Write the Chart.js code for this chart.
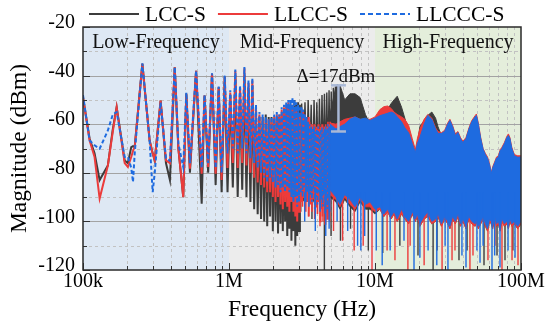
<!DOCTYPE html>
<html><head><meta charset="utf-8">
<script src="https://cdn.jsdelivr.net/npm/chart.js@4.4.1/dist/chart.umd.min.js"></script>
<style>html,body{margin:0;padding:0;background:#fff}#wrap{width:546px;height:328px}</style>
</head><body><div id="wrap"><canvas id="c" width="546" height="328"></canvas></div>
<script>
// ================= DATA =================
const seriesNames = ['LCC-S', 'LLCC-S', 'LLCCC-S'];
const regionNames = ['Low-Frequency', 'Mid-Frequency', 'High-Frequency'];
const regionEdgesHz = [1e5, 1e6, 1e7, 1e8];
const xTickValuesHz = [1e5, 1e6, 1e7, 1e8];
const xTickLabels = ['100k', '1M', '10M', '100M'];
const yTickValues = [-20, -40, -60, -80, -100, -120];
const yTickLabels = ['-20', '-40', '-60', '-80', '-100', '-120'];
const yMinorValues = [-30, -50, -70, -90, -110];
const xMinorMultipliers = [2, 3, 4, 5, 6, 7, 8, 9];
const xMinorDecadesHz = [1e5, 1e6, 1e7];

// harmonic comb region, 100 kHz .. 3.06 MHz (kHz)
const combFreqKHz = [100,111,120,130,148,160,170,193,203,214,220,226,255,286,300,310,340,370,394,425,450,486,510,540,595,650,680,720,765,810,850,890,935,
  977,1020,1062,1105,1147,1190,1232,1275,1317,1360,1402,1445,1487,1530,1572,1615,1657,1700,1742,1785,1827,1870,1912,1955,1997,2040,2082,2125,2167,2210,2252,2295,2337,2380,2422,2465,2507,2550,2592,2635,2677,2720,2762,2805,2847,2890,2932,2975,3017,3060];
const combLCC = [-49,-66,-72,-83,-77,-62,-53,-75,-76,-69.4,-69,-69.4,-35.2,-66.7,-72,-74.9,-50.3,-76,-83,-36.6,-70,-90,-47.5,-80,-38,-92.7,-48.2,-80,-39.3,-85,-44.8,-88,-40.5,
  -88,-48,-86,-40,-90,-47,-87,-40,-90,-45,-92,-44,-95,-55,-97,-57,-99,-57,-100,-56,-102,-57,-98,-57,-104,-58,-100,-57,-105,-57,-101,-56,-104,-57,-100,-56,-106,-54,-103,-52,-108,-53,-104,-50,-110,-52,-106,-51,-104,-52];
const combLLCC = [-49,-66.7,-73.5,-90.6,-77,-63,-53,-76,-77.6,-73.5,-71,-69.4,-35.2,-66.7,-72,-74.9,-50.3,-74.9,-76,-36.6,-70,-90,-47.5,-78.3,-38,-80.4,-48.2,-77.6,-39.3,-80.4,-44.8,-83,-40.5,
  -78,-47,-76,-38,-78,-45,-76,-37,-77,-43,-80,-42,-82,-53,-84,-56,-85,-57,-86,-58,-88,-58,-88,-58,-90,-57,-92,-56,-90,-56,-93,-54,-95,-53,-92,-52,-94,-51,-96,-52,-92,-52,-96,-53,-98,-54,-100,-55,-96,-56];
const combLLCCC = [-48,-66.7,-68.7,-70.1,-62.6,-56,-55,-73.5,-73.5,-78,-83.8,-72,-35,-66.7,-88,-80,-51,-74,-75,-36.5,-68,-77.6,-47,-76,-38,-78,-48,-76,-39,-78,-44.5,-80,-40,
  -72,-46,-70,-37.5,-72,-44,-70,-36.5,-72,-42,-74,-41,-76,-52,-78,-55,-80,-56,-82,-57,-84,-58,-82,-57,-84,-56,-86,-55,-85,-56,-88,-53,-86,-52,-88,-51,-86,-50,-88,-50,-90,-49,-92,-50,-90,-51,-94,-52,-92,-53];

// continued harmonic comb 3.1 .. 4.93 MHz (kHz) for LLCC-S / LLCCC-S
const comb3FreqKHz = [3102,3145,3187,3230,3272,3315,3357,3400,3442,3485,3527,3570,3612,3655,3697,3740,3782,3825,3867,3910,3952,3995,4037,4080,4122,4165,4207,4250,4292,4335,4377,4420,4462,4505,4547,4590,4632,4675,4717,4760,4802,4845,4887,4930];
const comb3LLCC = [-92,-54,-94,-55,-90,-56,-96,-58,-92,-57,-98,-59,-93,-60,-96,-61,-91,-60,-99,-62,-94,-61,-97,-60,-92,-62,-100,-61,-95,-60,-98,-62,-93,-61,-101,-60,-96,-61,-99,-59,-94,-60,-100,-59];
const comb3LLCCC = [-88,-53,-90,-54,-86,-56,-92,-57,-88,-59,-94,-60,-89,-61,-92,-62,-87,-61,-95,-63,-90,-62,-93,-61,-88,-63,-96,-62,-91,-61,-94,-63,-89,-62,-97,-61,-92,-62,-95,-60,-90,-61,-96,-60];

// LCC-S odd-harmonic comb, 3.1 .. 5.5 MHz (kHz)
const comb2FreqKHz = [3145,3230,3315,3400,3485,3570,3655,3740,3825,3910,3995,4080,4165,4250,4335,4420,4505,4590,4675,4760,4845,4930,5015,5100,5185,5270,5355,5440,5525];
const comb2LCC = [-51.5,-76,-51,-78,-50,-75,-52,-80,-50,-77,-51,-76,-49.5,-79,-48,-75,-47.5,-78,-47,-76,-46,-77,-46.5,-75,-45,-78,-44.5,-76,-43.5];

// dense band region, 3.06 .. 100 MHz (MHz): upper / lower envelopes (null = not dense yet)
const bandFreqMHz = [3.06,3.3,3.59,3.9,4.2,4.5,4.92,5.4,5.76,6.2,6.74,7.3,7.9,8.6,9.24,10,10.8,11.5,12.2,12.9,13.5,14.2,15.2,16,17,18,18.9,19.5,20.3,21.7,23,24.5,26,27,28.5,30,31.5,32.6,34,35.5,37,38.5,40,42,44,46,48.5,49.5,51,53,55,57,59,61,62.5,64,66,68,70,72,74,77,80,82,84,86.5,90,95,100];
const upperLCC = [-66,-66,-66,-66,-66,-66,-56,-44.5,-44,-50,-47.5,-47.5,-49,-56,-60,-62,-58,-56,-54,-51.5,-50,-48.5,-53,-57.5,-63,-69.5,-73.6,-68,-61,-58.5,-56.4,-55,-57.5,-61,-64.7,-66.7,-62,-60,-62,-64,-63.5,-66.5,-68,-67,-63,-60,-58,-57.5,-61,-67,-71,-73,-74.5,-77.5,-81,-79,-77,-75,-74.5,-72,-71,-69,-66.5,-65.5,-67,-71,-74,-74.5,-74.5];
const upperLLCC = [null,null,null,null,null,null,-59.5,-60,-59,-58,-57.5,-57,-58,-58,-58,-57,-54,-52.8,-52.5,-53.5,-55,-56,-57,-58,-60.5,-66,-70.5,-66,-62,-58,-56,-57.5,-61.5,-63,-63.5,-62.5,-59.5,-58,-60.5,-64,-63,-65.5,-67,-65.5,-61.5,-58.5,-56.5,-55.8,-59.5,-65.5,-70,-72,-73.5,-76.5,-80,-77.5,-75.5,-73.5,-73,-70.5,-69.5,-67.5,-65,-64,-65.5,-69.5,-72.5,-73,-73];
const upperLLCCC = [null,null,null,null,null,null,-60,-62,-61,-60,-58,-57,-58,-57.5,-58.5,-57.5,-56.5,-56,-55.5,-55,-55.5,-57,-59,-61.5,-63.5,-68,-71.6,-68,-65.5,-60,-56.4,-58,-62,-63.8,-63.8,-63,-60,-58.5,-61,-64.7,-63.4,-66,-67.5,-66,-62,-59,-57,-56.4,-60,-66,-70.3,-72.5,-74,-77,-80.3,-78,-76,-74,-73.6,-71,-70,-68,-65.5,-64.7,-66,-70,-73,-73.6,-73.5];
const lowerLLCCC = [null,null,null,null,null,null,-87,-90,-93,-89,-91,-94,-90,-93,-92,-95,
  -94,-97,-95,-98,-96,-99,-95,-98,-100,-96,-99,-97,-101,-98,-96,-100,-99,-97,-101,-98,-100,-102,-98,-100,-97,-101,-99,-102,-98,-100,-101,-99,-102,-100,-98,-101,-103,-99,-100,-102,-98,-101,-100,-103,-99,-101,-100,-102,-99,-101,-100,-102,-100];
const lowerLLCC = [null,null,null,null,null,null,-89,-91,-94,-90,-93,-95,-91,-94,-94,-96,
  -95,-98,-96,-99,-97,-100,-97,-99,-101,-97,-100,-98,-102,-99,-98,-101,-100,-98,-102,-99,-101,-103,-99,-101,-98,-102,-100,-103,-99,-101,-102,-100,-103,-101,-99,-102,-104,-100,-101,-103,-99,-102,-101,-104,-100,-102,-101,-103,-100,-102,-101,-103,-101];
const lowerLCC = [-90,-92,-89,-93,-91,-94,-90,-92,-95,-91,-94,-96,-92,-95,-95,-97,
  -95,-98,-96,-99,-97,-100,-97,-99,-101,-97,-100,-98,-102,-99,-98,-101,-100,-98,-102,-99,-101,-103,-99,-101,-98,-102,-100,-103,-99,-101,-102,-100,-103,-101,-99,-102,-104,-100,-101,-103,-99,-102,-101,-104,-100,-102,-101,-103,-100,-102,-101,-103,-101];

// downward spikes below the dense band (MHz, dBm)
const spikeTopDBm = -88;
const spikeFreqLCC = [3.1,3.7,4.5,5.0,5.8,6.8,9.0,11.3,14.8,19.7,25.0,26.6,37.6,42.7,55.8,68.5,77.7,88];
const spikeDepthLCC = [-96,-99,-120,-106,-108,-103,-112,-113,-110,-114,-120,-112,-116,-112,-118,-114,-116,-112];
const spikeFreqLLCC = [3.5,4.2,4.4,5.2,6.0,7.2,8.3,9.54,12.1,13.7,16.8,17.4,21.7,28.8,33.7,35.3,44.7,46.9,59.4,66.4,74.1,86.8,95.4];
const spikeDepthLLCC = [-98,-102,-100,-104,-108,-112,-110,-120,-112,-116,-120,-110,-118,-120,-116,-112,-120,-114,-116,-110,-120,-116,-118];
const spikeFreqLLCCC = [3.3,3.9,4.6,4.85,5.5,6.5,7.6,8.0,8.5,10.2,11.2,12.7,15.8,18.5,20.3,23.1,26.5,30.2,31.6,39.4,42,49.9,52.4,55,63.3,66,71.8,81.5,91.0];
const spikeDepthLLCCC = [-100,-104,-106,-103,-100,-104,-110,-112,-106,-112,-118,-112,-108,-120,-115,-112,-118,-110,-120,-114,-119,-112,-117,-110,-120,-114,-119,-112,-115];

// annotation
const annFreqHz = 5.62e6, annTopDBm = -44, annBottomDBm = -63;
const annText = 'Δ=17dBm', annTextFreqHz = 5.4e6, annTextDBm = -40.5;

// ================= STYLE =================
const FONT = "'Liberation Serif', 'Times New Roman', serif";
const COL = { LCC: '#3c3c3c', LLCC: '#ec3b3b', LLCCC: '#1e6be0' };
const regionColors = ['#dee8f4', '#ececec', '#e4eedb'];

const kHz = v => v * 1e3, MHz = v => v * 1e6;
function toPts(freqs, vals, conv) { return freqs.map((f, i) => ({ x: conv(f), y: vals[i] })); }
function toSpikes(freqs, depths) {
  const out = [];
  freqs.forEach((f, i) => { out.push({ x: MHz(f), y: spikeTopDBm }, { x: MHz(f), y: depths[i] }, { x: MHz(f), y: null }); });
  return out;
}

const datasets = [];
function addSeries(name, color, base, comb, comb3, upper, lower, spF, spD, dashed) {
  const dash = dashed ? [4, 2.5] : [];
  datasets.push({ label: name + ' band', data: toPts(bandFreqMHz, upper, MHz), borderColor: color, backgroundColor: color, borderWidth: 1, fill: '+1', spanGaps: false, order: base + 2 });
  datasets.push({ label: name + ' band low', data: toPts(bandFreqMHz, lower, MHz), borderColor: color, borderWidth: 0.8, fill: false, spanGaps: false, order: base + 2 });
  datasets.push({ label: name, data: toPts(combFreqKHz, comb, kHz), borderColor: color, borderWidth: 2, borderDash: dash, fill: false, order: base + 1 });
  if (comb3) datasets.push({ label: name + ' comb', data: toPts(comb3FreqKHz, comb3, kHz), borderColor: color, borderWidth: 1.6, borderDash: dash, fill: false, order: base + 1 });
  datasets.push({ label: name + ' spikes', data: toSpikes(spF, spD), borderColor: color, borderWidth: 1.4, spanGaps: false, fill: false, order: base + 1 });
}
addSeries('LLCCC-S', COL.LLCCC, 10, combLLCCC, comb3LLCCC, upperLLCCC, lowerLLCCC, spikeFreqLLCCC, spikeDepthLLCCC, true);
addSeries('LLCC-S', COL.LLCC, 20, combLLCC, comb3LLCC, upperLLCC, lowerLLCC, spikeFreqLLCC, spikeDepthLLCC, false);
addSeries('LCC-S', COL.LCC, 30, combLCC, null, upperLCC, lowerLCC, spikeFreqLCC, spikeDepthLCC, false);
datasets.push({ label: 'LCC-S comb', data: toPts(comb2FreqKHz, comb2LCC, kHz), borderColor: COL.LCC, borderWidth: 1.4, fill: false, order: 31 });

const legendItems = [
  { text: seriesNames[0], color: COL.LCC, dash: [] },
  { text: seriesNames[1], color: COL.LLCC, dash: [] },
  { text: seriesNames[2], color: COL.LLCCC, dash: [5, 3] }
];

function seg(ctx, x0, y0, x1, y1) { ctx.beginPath(); ctx.moveTo(x0, y0); ctx.lineTo(x1, y1); ctx.stroke(); }

const deco = {
  id: 'deco',
  beforeDatasetsDraw(chart) {
    const { ctx, chartArea: a, scales: { x, y } } = chart;
    ctx.save();
    for (let i = 0; i < regionNames.length; i++) {
      const x0 = x.getPixelForValue(regionEdgesHz[i]), x1 = x.getPixelForValue(regionEdgesHz[i + 1]);
      ctx.fillStyle = regionColors[i];
      ctx.fillRect(x0, a.top, x1 - x0, a.bottom - a.top);
    }
    ctx.lineWidth = 1;
    ctx.strokeStyle = '#c2c2c2';
    ctx.setLineDash([3, 3]);
    xMinorDecadesHz.forEach(d => xMinorMultipliers.forEach(m => {
      const px = Math.round(x.getPixelForValue(d * m)) + 0.5;
      seg(ctx, px, a.top, px, a.bottom);
    }));
    yMinorValues.forEach(v => { const py = Math.round(y.getPixelForValue(v)) + 0.5; seg(ctx, a.left, py, a.right, py); });
    ctx.setLineDash([]);
    ctx.strokeStyle = '#a3a3a3';
    ctx.lineWidth = 1.2;
    yTickValues.slice(1, -1).forEach(v => { const py = Math.round(y.getPixelForValue(v)) + 0.5; seg(ctx, a.left, py, a.right, py); });
    ctx.restore();
  },
  afterDatasetsDraw(chart) {
    const { ctx, chartArea: a, scales: { x, y } } = chart;
    ctx.save();
    ctx.strokeStyle = '#333'; ctx.lineWidth = 1;
    xMinorDecadesHz.forEach(d => xMinorMultipliers.forEach(m => {
      const px = Math.round(x.getPixelForValue(d * m)) + 0.5;
      seg(ctx, px, a.bottom, px, a.bottom - 4);
    }));
    xTickValuesHz.forEach(v => { const px = Math.round(x.getPixelForValue(v)) + 0.5; seg(ctx, px, a.bottom, px, a.bottom - 7); });
    yMinorValues.forEach(v => { const py = Math.round(y.getPixelForValue(v)) + 0.5; seg(ctx, a.left, py, a.left + 4, py); });
    yTickValues.forEach(v => { const py = Math.round(y.getPixelForValue(v)) + 0.5; seg(ctx, a.left, py, a.left + 7, py); });
    ctx.lineWidth = 1.5; ctx.strokeStyle = '#2a2a2a';
    ctx.strokeRect(a.left, a.top, a.right - a.left, a.bottom - a.top);
    const ax = x.getPixelForValue(annFreqHz), ay0 = y.getPixelForValue(annTopDBm), ay1 = y.getPixelForValue(annBottomDBm);
    ctx.strokeStyle = '#a9b8d6'; ctx.lineWidth = 2.5;
    seg(ctx, ax, ay0, ax, ay1);
    seg(ctx, ax - 7.5, ay0, ax + 7.5, ay0);
    seg(ctx, ax - 7.5, ay1, ax + 7.5, ay1);
    ctx.fillStyle = '#111';
    ctx.font = '19px ' + FONT;
    ctx.textAlign = 'center'; ctx.textBaseline = 'middle';
    ctx.fillText(annText, x.getPixelForValue(annTextFreqHz), y.getPixelForValue(annTextDBm));
    ctx.font = '20px ' + FONT;
    ctx.textBaseline = 'alphabetic';
    regionNames.forEach((t, i) => {
      const cx = (x.getPixelForValue(regionEdgesHz[i]) + x.getPixelForValue(regionEdgesHz[i + 1])) / 2;
      ctx.fillText(t, cx, a.top + 21);
    });
    ctx.restore();
  },
  afterDraw(chart) {
    const { ctx } = chart;
    ctx.save();
    ctx.font = '21.5px ' + FONT;
    ctx.textBaseline = 'alphabetic'; ctx.textAlign = 'left';
    let lx = 89;
    legendItems.forEach(it => {
      ctx.strokeStyle = it.color; ctx.lineWidth = 2; ctx.setLineDash(it.dash);
      seg(ctx, lx, 14, lx + 50, 14);
      ctx.setLineDash([]);
      ctx.fillStyle = '#000';
      ctx.fillText(it.text, lx + 56, 20.5);
      lx += 56 + ctx.measureText(it.text).width + 12;
    });
    ctx.restore();
  }
};

new Chart(document.getElementById('c'), {
  type: 'line',
  data: { datasets },
  options: {
    responsive: false, animation: false, devicePixelRatio: 1,
    layout: { padding: { top: 27, right: 25, left: 0, bottom: 0 } },
    plugins: { legend: { display: false }, tooltip: { enabled: false } },
    elements: { point: { radius: 0 }, line: { tension: 0 } },
    scales: {
      x: {
        type: 'logarithmic', min: 1e5, max: 1e8,
        afterFit(s) { s.height = 58; },
        afterBuildTicks(s) { s.ticks = xTickValuesHz.map(v => ({ value: v })); },
        ticks: { autoSkip: false, maxRotation: 0, padding: 0, color: '#000', font: { family: FONT, size: 20 },
          callback: v => xTickLabels[xTickValuesHz.indexOf(v)] },
        grid: { display: false, drawTicks: false }, border: { display: false },
        title: { display: true, text: 'Frequency (Hz)', color: '#000', font: { family: FONT, size: 23.5 }, padding: { top: 0, bottom: 4 } }
      },
      y: {
        type: 'linear', min: -120, max: -20,
        afterFit(s) { s.width = 83; },
        afterBuildTicks(s) { s.ticks = yTickValues.map(v => ({ value: v })); },
        ticks: { padding: 8, labelOffset: -4, color: '#000', font: { family: FONT, size: 20 },
          callback: v => yTickLabels[yTickValues.indexOf(v)] },
        grid: { display: false, drawTicks: false }, border: { display: false },
        title: { display: true, text: 'Magnitude (dBm)', color: '#000', font: { family: FONT, size: 23.5 }, padding: { top: 6, bottom: 0 } }
      }
    }
  },
  plugins: [deco]
});
</script></body></html>
